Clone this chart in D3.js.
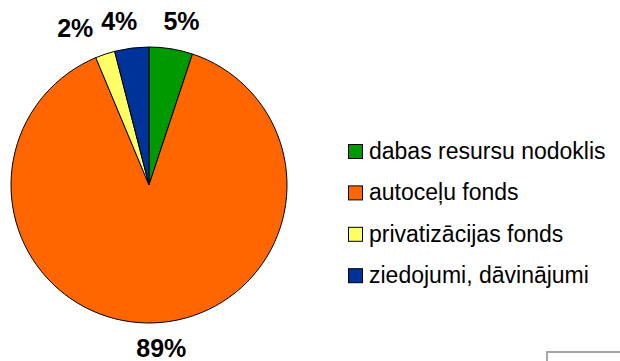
<!DOCTYPE html>
<html>
<head>
<meta charset="utf-8">
<script src="https://cdn.jsdelivr.net/npm/d3@7"></script>
<style>
  html, body { margin: 0; padding: 0; background: #fff; }
  svg { display: block; }
</style>
</head>
<body>
<svg id="chart" width="620" height="361"></svg>
<script>
// Funding sources, share of total (%)
const categories = ["dabas resursu nodoklis", "autoceļu fonds", "privatizācijas fonds", "ziedojumi, dāvinājumi"];
const values = [5.1, 88.6, 2.3, 4.0];
const colors = ["#009900", "#ff6600", "#ffff66", "#003399"];

// Small offsets that keep the outside labels from colliding
const labelNudge = [[6, 0], [6, -2.5], [-21, 0.6], [-9, 1]];

const svg = d3.select("#chart");
const W = 620, H = 361;
const cx = 149, cy = 185, R = 138;

svg.append("rect").attr("width", W).attr("height", H).attr("fill", "#fff");

const total = d3.sum(values);
const pie = d3.pie().sort(null).value(d => d).startAngle(0).endAngle(2 * Math.PI);
const arcs = pie(values);
const arc = d3.arc().innerRadius(0).outerRadius(R);
const labelArc = d3.arc().innerRadius(166).outerRadius(166);

const g = svg.append("g").attr("transform", `translate(${cx},${cy})`);

g.selectAll("path.slice")
  .data(arcs)
  .join("path")
  .attr("class", "slice")
  .attr("d", arc)
  .attr("fill", (d, i) => colors[i])
  .attr("stroke", "#000")
  .attr("stroke-width", 1)
  .attr("stroke-linejoin", "round");

const fmt = v => Math.round(v / total * 100) + "%";

g.selectAll("text.pct")
  .data(arcs)
  .join("text")
  .attr("class", "pct")
  .attr("x", (d, i) => labelArc.centroid(d)[0] + labelNudge[i][0])
  .attr("y", (d, i) => labelArc.centroid(d)[1] + labelNudge[i][1] + 9)
  .attr("text-anchor", "middle")
  .attr("font-family", "'Liberation Sans', Arial, sans-serif")
  .attr("font-weight", "bold")
  .attr("font-size", 25)
  .attr("fill", "#000")
  .text(d => fmt(d.data));

// Legend
const legend = svg.append("g").attr("transform", "translate(348,144)");
const rowStep = 41.4;
const rows = legend.selectAll("g.row")
  .data(categories)
  .join("g")
  .attr("class", "row")
  .attr("transform", (d, i) => `translate(0,${i * rowStep})`);

rows.append("rect")
  .attr("x", 0.5).attr("y", 0.5)
  .attr("width", 14).attr("height", 14)
  .attr("fill", (d, i) => colors[i])
  .attr("stroke", "#000")
  .attr("stroke-width", 1);

rows.append("text")
  .attr("x", 21)
  .attr("y", 15)
  .attr("font-family", "'Liberation Sans', Arial, sans-serif")
  .attr("font-size", 23)
  .attr("fill", "#000")
  .text(d => d);

// Corner of the frame at the lower right
svg.append("path")
  .attr("d", `M547,${H} V352 H${W}`)
  .attr("fill", "none")
  .attr("stroke", "#a6a6a6")
  .attr("stroke-width", 2);
</script>
</body>
</html>
